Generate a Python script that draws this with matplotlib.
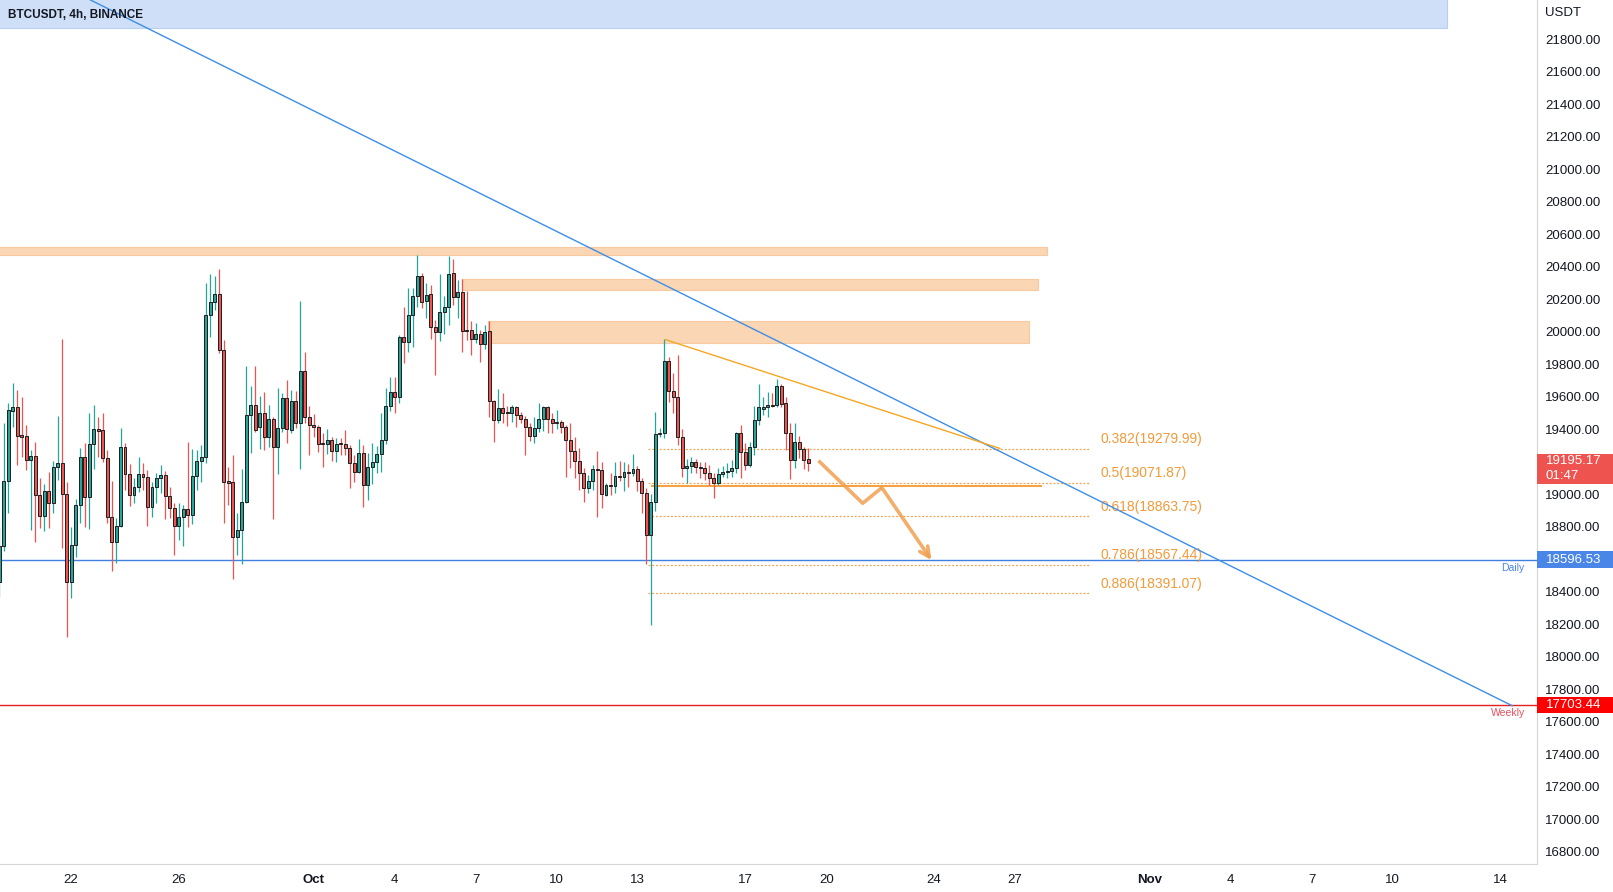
import matplotlib
matplotlib.use("Agg")
import matplotlib.pyplot as plt
import matplotlib.dates as mdates
import matplotlib.transforms as mtransforms
from matplotlib.patches import Rectangle
import pandas as pd

# 4h candles BTCUSDT
start = "2022-09-19 08:00"
opens = [18463, 18682, 19082, 19515, 19540, 19366, 19359, 19211, 19236, 18994,
         18867, 19023, 18945, 19166, 19191, 19000, 18459, 18686, 18932, 19228,
         18986, 19310, 19400, 19394, 19222, 18859, 18709, 18805, 19289, 19123,
         18994, 19047, 19123, 19105, 18920, 19047, 19099, 19117, 18990, 18914,
         18805, 18863, 18908, 18873, 19113, 19203, 19228, 20103, 20181, 20231,
         19888, 19080, 19074, 18740, 18781, 18951, 19488, 19548, 19412, 19503,
         19355, 19462, 19289, 19406, 19591, 19396, 19572, 19437, 19759, 19474,
         19425, 19412, 19314, 19308, 19332, 19265, 19314, 19310, 19283, 19191,
         19140, 19256, 19056, 19166, 19197, 19246, 19334, 19544, 19628, 19597,
         19966, 19939, 20103, 20220, 20343, 20192, 20233, 20028, 20001, 20120,
         20155, 20360, 20216, 20245, 20011, 20011, 19956, 19987, 19925, 20005,
         19576, 19458, 19529, 19505, 19498, 19539, 19488, 19466, 19416, 19361,
         19406, 19466, 19535, 19466, 19437, 19447, 19412, 19334, 19269, 19207,
         19130, 19041, 19082, 19154, 19150, 18996, 19058, 19052, 19113, 19109,
         19138, 19134, 19154, 19084, 19006, 18750, 18955, 19371, 19379, 19820,
         19638, 19597, 19355, 19164, 19176, 19197, 19168, 19164, 19130, 19099,
         19068, 19123, 19138, 19146, 19162, 19375, 19263, 19181, 19293, 19457,
         19523, 19539, 19550, 19550, 19667, 19560, 19375, 19211, 19324, 19277,
         19217]
highs = [18801, 19437, 19560, 19687, 19642, 19597, 19427, 19273, 19324, 19099,
         19064, 19138, 19205, 19482, 19954, 19078, 18801, 18973, 19283, 19314,
         19498, 19550, 19474, 19498, 19273, 19082, 18852, 19406, 19318, 19187,
         19099, 19228, 19195, 19150, 19078, 19130, 19181, 19146, 19047, 18945,
         18949, 18934, 19324, 19279, 19273, 19304, 20303, 20356, 20344, 20385,
         19950, 19170, 19242, 18883, 19154, 19790, 19667, 19790, 19605, 19632,
         19550, 19478, 19652, 19622, 19704, 19642, 19638, 20192, 19878, 19544,
         19494, 19427, 19375, 19400, 19355, 19345, 19345, 19396, 19304, 19242,
         19338, 19304, 19256, 19318, 19297, 19498, 19652, 19724, 19724, 19980,
         20155, 20268, 20268, 20473, 20364, 20298, 20288, 20073, 20356, 20220,
         20465, 20450, 20319, 20323, 20253, 20069, 20056, 20011, 20042, 20069,
         19580, 19646, 19626, 19544, 19550, 19544, 19509, 19482, 19437, 19478,
         19560, 19544, 19546, 19498, 19519, 19457, 19427, 19441, 19355, 19283,
         19160, 19119, 19181, 19269, 19201, 19068, 19130, 19201, 19205, 19201,
         19187, 19246, 19174, 19099, 19037, 19000, 19509, 19406, 19954, 19847,
         19749, 19857, 19400, 19216, 19232, 19216, 19201, 19201, 19181, 19130,
         19160, 19174, 19191, 19211, 19386, 19427, 19314, 19324, 19544, 19679,
         19601, 19632, 19622, 19708, 19679, 19601, 19441, 19437, 19359, 19293,
         19283]
lows = [18370, 18650, 18883, 19416, 19181, 19232, 19150, 18781, 18709, 18791,
        18777, 18795, 18883, 19088, 18668, 18124, 18360, 18617, 18822, 18801,
        18785, 19154, 19228, 19201, 18822, 18530, 18575, 18801, 19027, 18928,
        18945, 19017, 19027, 18805, 18863, 18945, 19006, 18846, 18853, 18627,
        18719, 18682, 18801, 18818, 19027, 19078, 19190, 19966, 20134, 19868,
        18822, 18934, 18477, 18627, 18572, 18945, 19256, 19386, 19277, 19273,
        19293, 18846, 19125, 19386, 19318, 19380, 19406, 19154, 19437, 19242,
        19351, 19263, 19166, 19246, 19205, 19201, 19242, 19242, 19041, 19078,
        19130, 18924, 18965, 19062, 19130, 19140, 19310, 19515, 19498, 19560,
        19806, 19878, 19909, 20150, 20145, 20083, 19954, 19734, 19946, 19987,
        20040, 20165, 20083, 19878, 19950, 19857, 19929, 19816, 19892, 19478,
        19324, 19437, 19441, 19421, 19447, 19416, 19437, 19240, 19330, 19318,
        19386, 19392, 19375, 19375, 19400, 19380, 19109, 19160, 19099, 19027,
        18955, 19010, 19027, 18863, 18914, 18990, 18996, 19006, 19084, 19023,
        19047, 19113, 19023, 18883, 18572, 18195, 18900, 19350, 19345, 19570,
        19502, 19304, 19109, 19072, 19130, 19130, 19099, 19088, 19058, 18976,
        19058, 19109, 19099, 19109, 19130, 19099, 19150, 19166, 19242, 19427,
        19488, 19478, 19540, 19540, 19535, 19273, 19092, 19160, 19222, 19154,
        19146]
closes = [18682, 19082, 19519, 19540, 19361, 19355, 19211, 19236, 18994, 18867,
          19023, 18945, 19166, 19191, 19000, 18459, 18686, 18932, 19228, 18986,
          19310, 19400, 19392, 19222, 18859, 18709, 18805, 19289, 19123, 18994,
          19047, 19123, 19105, 18920, 19047, 19099, 19117, 18990, 18914, 18805,
          18863, 18908, 18873, 19113, 19203, 19228, 20103, 20181, 20231, 19888,
          19074, 19072, 18740, 18781, 18951, 19488, 19548, 19396, 19503, 19355,
          19462, 19289, 19406, 19591, 19400, 19572, 19437, 19759, 19474, 19425,
          19412, 19308, 19308, 19332, 19265, 19310, 19308, 19283, 19191, 19140,
          19256, 19056, 19166, 19197, 19246, 19334, 19544, 19628, 19597, 19966,
          19939, 20103, 20220, 20343, 20186, 20227, 20028, 20001, 20120, 20155,
          20356, 20216, 20245, 20007, 20007, 19956, 19987, 19925, 20001, 19576,
          19458, 19529, 19503, 19498, 19539, 19488, 19466, 19416, 19361, 19406,
          19466, 19535, 19466, 19437, 19447, 19412, 19334, 19269, 19207, 19130,
          19041, 19082, 19154, 19150, 19000, 19058, 19052, 19113, 19109, 19138,
          19134, 19154, 19084, 19006, 18750, 18955, 19371, 19379, 19820, 19638,
          19597, 19355, 19164, 19176, 19197, 19166, 19164, 19130, 19099, 19068,
          19123, 19138, 19146, 19162, 19375, 19263, 19181, 19293, 19457, 19535,
          19539, 19548, 19546, 19667, 19556, 19375, 19211, 19324, 19277, 19211,
          19195.17]

last_price = 19195.17
daily_level = 18596.53
weekly_level = 17703.44
fib_ratios = ["0.382", "0.5", "0.618", "0.786", "0.886"]
fib_prices = [19279.99, 19071.87, 18863.75, 18567.44, 18391.07]

# drawings: x in days from Oct 1, y in price
zones = [(-12, 27.2, 20473, 20522), (5.5, 26.85, 20255, 20325), (6.46, 26.52, 19930, 20066)]
blue_trend = ([-8.28, 44.43], [22042, 17699])
orange_trend = ([13.04, 25.44], [19952, 19282])
path_x = [18.71, 20.35, 21.06, 22.9]
path_y = [19207, 18945, 19041, 18595]
support_x = [12.5, 27.0]
support_y = 19050

date_ticks = ["2022-09-22", "2022-09-26", "2022-10-01", "2022-10-04", "2022-10-07",
              "2022-10-10", "2022-10-13", "2022-10-17", "2022-10-20", "2022-10-24",
              "2022-10-27", "2022-11-01", "2022-11-04", "2022-11-07", "2022-11-10",
              "2022-11-14"]
date_labels = ["22", "26", "Oct", "4", "7", "10", "13", "17", "20", "24", "27",
               "Nov", "4", "7", "10", "14"]
price_ticks = [p for p in range(16800, 22000, 200) if p not in (19200, 18600)]

plt.rcParams["font.family"] = ["Liberation Sans", "DejaVu Sans"]
txt = "#131722"
up, down = "#26a69a", "#ef5350"

fig = plt.figure(figsize=(16.13, 8.92), dpi=100)
ax = fig.add_axes([0, 28 / 892, 1537 / 1613, 864 / 892])

oct1 = mdates.date2num(pd.Timestamp("2022-10-01"))
x = mdates.date2num(pd.date_range(start, periods=len(opens), freq="4h").to_pydatetime())

ax.set_xlim(oct1 - 11.635, oct1 + 45.35)
ax.set_ylim(16725, 22042)

# header zone
ax.add_patch(Rectangle((oct1 - 12, 21870), 54.02, 400, facecolor="#cfdff7",
                       edgecolor="#b9cff0", lw=0.8, zorder=1))
# orange zones
for x0, x1, y0, y1 in zones:
    ax.add_patch(Rectangle((oct1 + x0, y0), x1 - x0, y1 - y0, facecolor="#fad6b4",
                           edgecolor="#f6c9a0", lw=0.8, zorder=1))

# candles
for i in range(len(opens)):
    o, h, l, c = opens[i], highs[i], lows[i], closes[i]
    col = up if c >= o else down
    ax.vlines(x[i], l, h, color=col, lw=0.9, zorder=3)
    b = min(o, c)
    hgt = max(abs(c - o), 4)
    ax.bar(x[i], hgt, bottom=b, width=0.11, color=col, edgecolor="#1e1e1e",
           linewidth=0.7, zorder=4)

# horizontal levels
ax.axhline(daily_level, color="#3f7fe0", lw=1, zorder=2)
ax.axhline(weekly_level, color="#e3201f", lw=1, zorder=2)
ax.text(oct1 + 44.9, daily_level - 18, "Daily", color="#4a86e8", fontsize=7.5,
        ha="right", va="top")
ax.text(oct1 + 44.9, weekly_level - 18, "Weekly", color="#e8505b", fontsize=7.5,
        ha="right", va="top")

# trendlines
ax.plot([oct1 + v for v in blue_trend[0]], blue_trend[1], color="#3d8ee6", lw=1, zorder=5)
ax.plot([oct1 + v for v in orange_trend[0]], orange_trend[1], color="#f5a623", lw=1, zorder=5)

# fib levels
fib_col = "#f5a04a"
for r, p in zip(fib_ratios, fib_prices):
    ax.hlines(p, oct1 + 12.4, oct1 + 28.78, colors=fib_col, lw=0.9,
              linestyles=(0, (1.5, 1.5)), zorder=2)
    ax.annotate(f"{r}({p:.2f})", (oct1 + 29.15, p), xytext=(0, 6.8),
                textcoords="offset points", color="#f39a3a", fontsize=10,
                ha="left", va="center")
ax.hlines(support_y, oct1 + support_x[0], oct1 + support_x[1], colors="#f59a2e",
          lw=1.3, zorder=2)

# projected path
px = [oct1 + v for v in path_x]
ax.plot(px[:3], path_y[:3], color="#f0a050", lw=2.6, alpha=0.85,
        solid_capstyle="butt", zorder=6)
ax.annotate("", xy=(px[3], path_y[3]), xytext=(px[2], path_y[2]),
            arrowprops=dict(arrowstyle="->,head_length=0.7,head_width=0.35",
                            color="#f0a050", lw=2.6, alpha=0.85,
                            shrinkA=0, shrinkB=0), zorder=6)

# axes styling
for s in ["top", "left"]:
    ax.spines[s].set_visible(False)
ax.spines["right"].set_color("#d6d6d6")
ax.spines["bottom"].set_color("#d6d6d6")
ax.yaxis.tick_right()
ax.set_yticks(price_ticks)
ax.set_yticklabels([f"{p:.2f}" for p in price_ticks])
ax.tick_params(axis="y", length=0, pad=6, labelsize=9.5, labelcolor=txt)
ax.set_xticks([mdates.date2num(pd.Timestamp(d)) for d in date_ticks])
ax.set_xticklabels(date_labels)
ax.tick_params(axis="x", length=0, pad=7.5, labelsize=9.5, labelcolor=txt)
for lab in ax.get_xticklabels():
    if lab.get_text() in ("Oct", "Nov"):
        lab.set_fontweight("bold")

# price axis labels
tr = mtransforms.blended_transform_factory(ax.transAxes, ax.transData)
xr = 1613 / 1537
ax.add_patch(Rectangle((1.0, 19066), xr - 1, 184, transform=tr, facecolor="#ef5350",
                       edgecolor="none", clip_on=False, zorder=7))
ax.text(1.0055, 19205, f"{last_price:.2f}", transform=tr, color="white", fontsize=9.5,
        va="center", ha="left", zorder=8)
ax.text(1.0055, 19110, "01:47", transform=tr, color="white", fontsize=9.5,
        va="center", ha="left", zorder=8)
ax.add_patch(Rectangle((1.0, daily_level - 52), xr - 1, 104, transform=tr,
                       facecolor="#4a86e8", edgecolor="none", clip_on=False, zorder=7))
ax.text(1.0055, daily_level, f"{daily_level:.2f}", transform=tr, color="white",
        fontsize=9.5, va="center", ha="left", zorder=8)
ax.add_patch(Rectangle((1.0, weekly_level - 52), xr - 1, 104, transform=tr,
                       facecolor="#ff0000", edgecolor="none", clip_on=False, zorder=7))
ax.text(1.0055, weekly_level, f"{weekly_level:.2f}", transform=tr, color="white",
        fontsize=9.5, va="center", ha="left", zorder=8)

fig.text(1545 / 1613, 1 - 13 / 892, "USDT", color=txt, fontsize=9.5, va="center")
fig.text(8 / 1613, 1 - 15 / 892, "BTCUSDT, 4h, BINANCE", color=txt, fontsize=8.5,
         fontweight="bold", va="center")

fig.savefig("out.png", dpi=100, facecolor="white")
